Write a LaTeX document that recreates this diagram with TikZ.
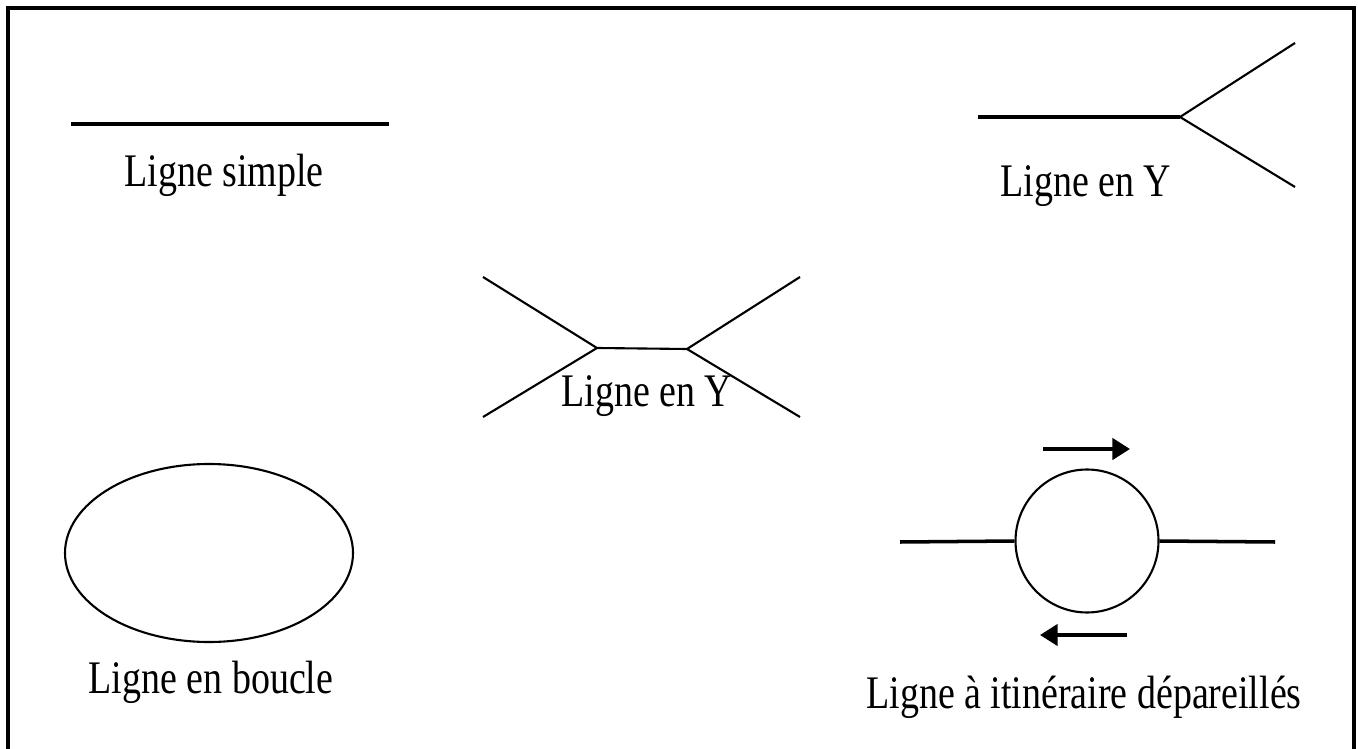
\documentclass[tikz,border=0pt]{standalone}
\usepackage{fontspec}
\setmainfont{Liberation Serif}
\usetikzlibrary{positioning,arrows.meta}
\tikzset{
  cadre/.style={line width=2pt},
  trait/.style={line width=2pt},
  fin/.style={line width=1.2pt},
  fleche/.style={-{Triangle[length=10pt,width=12pt]},line width=2.2pt},
  rond/.style={circle,draw,line width=1.2pt,minimum size=2.86cm,inner sep=0pt},
  legende/.style={font=\fontsize{21.6}{24}\selectfont,inner sep=0pt,anchor=base,yscale=1.23,transform shape},
}

\begin{document}
\begin{tikzpicture}[x=0.02cm,y=-0.02cm]
\useasboundingbox (0,0) rectangle (1358,749);
\draw[cadre] (8,760) -- (8,8) -- (1354,8) -- (1354,760);
% ligne simple
\coordinate (s1) at (71,124);
\coordinate (s2) at (389,124);
\draw[trait] (s1) -- (s2);
\node[legende] (lsimple) at (224,187) {Ligne simple};
% ligne en Y
\coordinate (y0) at (978,117);
\coordinate (yn) at (1180,117);
\coordinate (ya) at (1295,43);
\coordinate (yb) at (1295,187);
\draw[trait] (y0) -- (yn);
\draw[fin] (yn) -- (ya) (yn) -- (yb);
\node[legende] (ly) at (1086,197) {Ligne en Y};
% double Y
\coordinate (g) at (597,348);
\coordinate (d) at (687,349);
\coordinate (ga) at (483,277);
\coordinate (gb) at (483,417);
\coordinate (da) at (800,277);
\coordinate (db) at (800,417);
\draw[fin] (ga) -- (g) -- (gb) (g) -- (d) (da) -- (d) -- (db);
\node[legende] (ly2) at (647,407) {Ligne en Y};
% boucle
\coordinate (boucle) at (209,553);
\draw[fin] (boucle) ellipse [x radius=144, y radius=89];
\node[legende] (lboucle) at (211,693) {Ligne en boucle};
% itineraire
\node[rond] (c) at (1087,541) {};
\coordinate (cg) at (900,542);
\coordinate (cd) at (1275,542);
\draw[trait] (cg) -- (c.west) (c.east) -- (cd);
\coordinate (h1) at (1043,449);
\coordinate (h2) at (1130,449);
\coordinate (b1) at (1127,635);
\coordinate (b2) at (1040,635);
\draw[fleche] (h1) -- (h2);
\draw[fleche] (b1) -- (b2);
\node[legende] (litin) at (1084,708) {Ligne à itinéraire dépareillés};
\end{tikzpicture}
\end{document}
